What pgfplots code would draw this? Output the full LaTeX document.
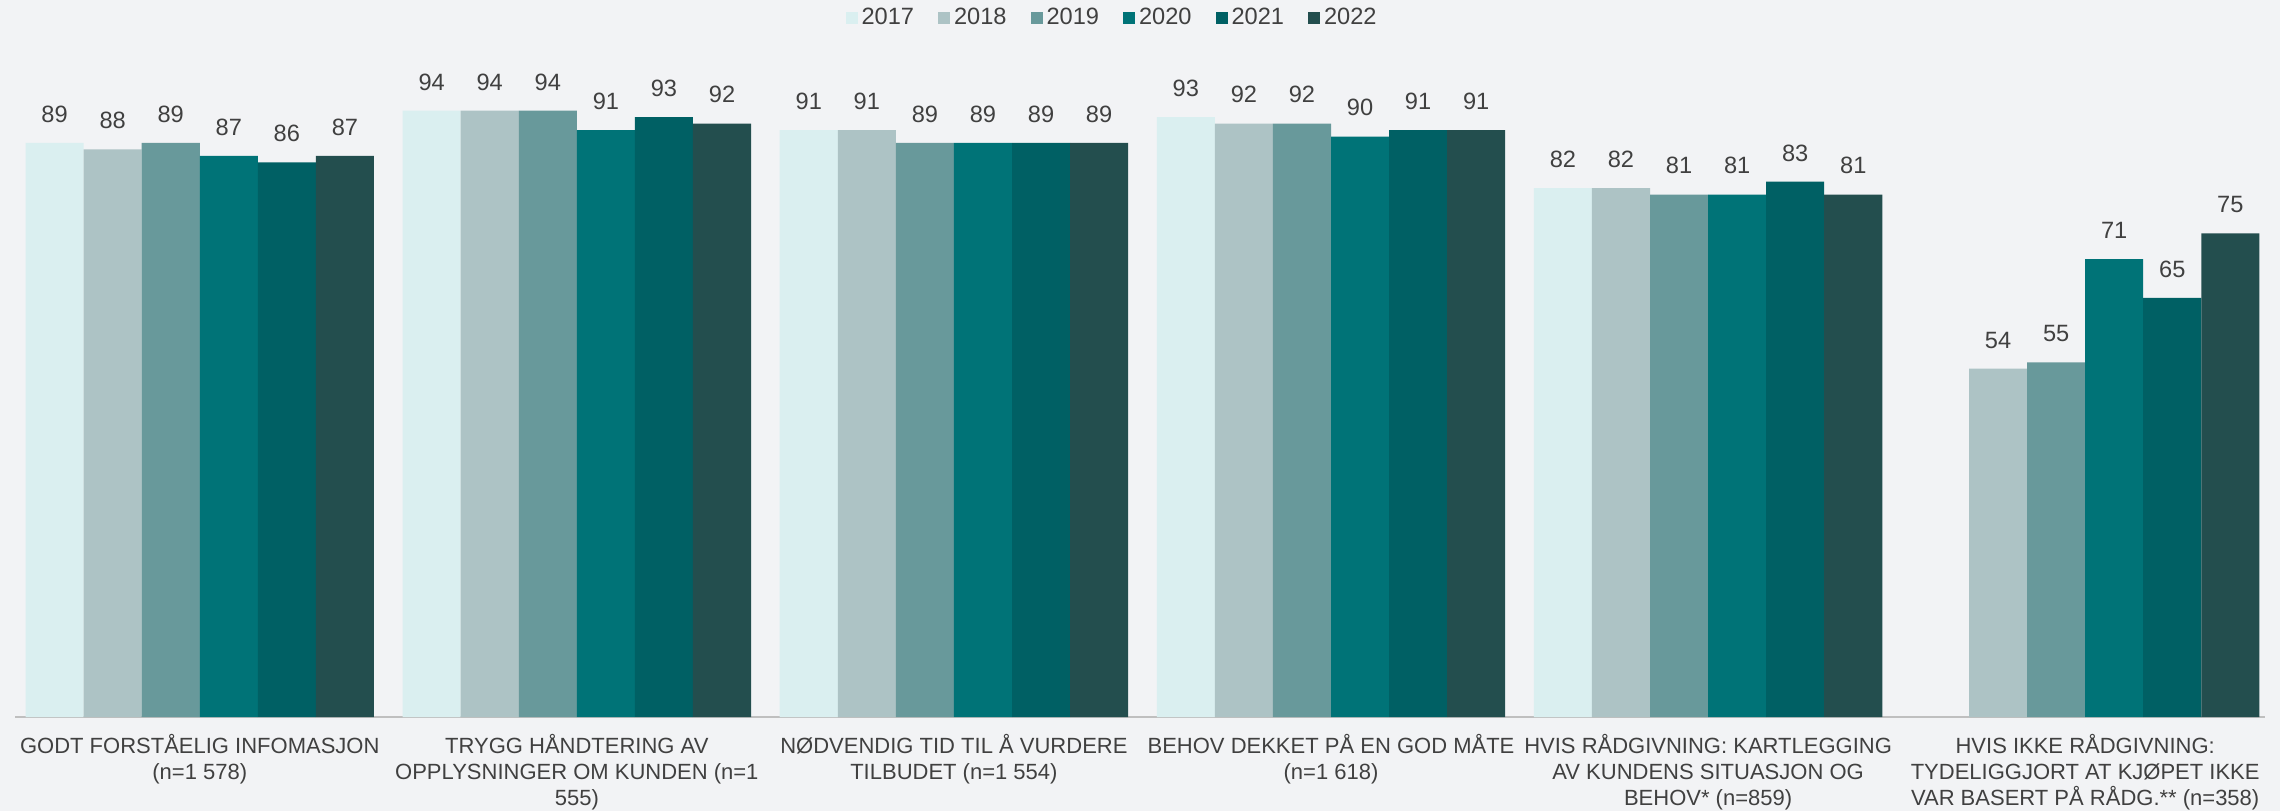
\documentclass[border=0pt]{standalone}
\usepackage{fontspec}
\setmainfont{Liberation Sans}
\usepackage{pgfplots}
\pgfplotsset{compat=1.18}
\definecolor{bg}{HTML}{F2F3F5}
\definecolor{cA}{HTML}{DAEFF0}
\definecolor{cB}{HTML}{ADC3C5}
\definecolor{cC}{HTML}{68999B}
\definecolor{cD}{HTML}{007377}
\definecolor{cE}{HTML}{006064}
\definecolor{cF}{HTML}{234E4E}
\definecolor{txt}{HTML}{404040}
\begin{document}
\begin{tikzpicture}
\fill[bg] (-7.5pt,-47pt) rectangle (1132.5pt,358.5pt);
\path[use as bounding box] (-7.5pt,-47pt) rectangle (1132.5pt,358.5pt);
\begin{axis}[
  at={(0pt,0pt)}, anchor=south west,
  scale only axis, width=1125pt, height=322.5pt,
  ybar=0pt, bar width=0.154,
  xmin=-0.49, xmax=5.477, ymin=0, ymax=100,
  axis y line=none,
  axis x line*=bottom,
  x axis line style={draw=black!25, line width=1pt, -},
  xtick={0,1,2,3,4,5},
  major tick length=0pt,
  xticklabels={{GODT FORSTÅELIG INFOMASJON\\(n=1 578)},{TRYGG HÅNDTERING AV\\OPPLYSNINGER OM KUNDEN (n=1\\555)},{NØDVENDIG TID TIL Å VURDERE\\TILBUDET (n=1 554)},{BEHOV DEKKET PÅ EN GOD MÅTE\\(n=1 618)},{HVIS RÅDGIVNING: KARTLEGGING\\AV KUNDENS SITUASJON OG\\BEHOV* (n=859)},{HVIS IKKE RÅDGIVNING:\\TYDELIGGJORT AT KJØPET IKKE\\VAR BASERT PÅ RÅDG.** (n=358)}},
  xticklabel style={align=center, font=\fontsize{11}{12.9}\selectfont, text=txt, anchor=north, inner sep=0pt, yshift=-8.5pt},
  /pgf/number format/assume math mode=true,
  nodes near coords,
  nodes near coords style={font=\fontsize{11.8}{13}\selectfont, text=txt, anchor=south, inner sep=0pt, yshift=10pt},
  legend columns=6,
  legend style={at={(0.488,1.084)}, anchor=center, draw=none, fill=none, font=\fontsize{11.8}{13}\selectfont, text=txt,
    /tikz/every even column/.append style={column sep=10pt}, inner sep=0pt},
  legend cell align=left,
]
\addplot[fill=cA, draw=none, legend image code/.code={\fill[cA] (0pt,-3pt) rectangle (6pt,3pt);}] coordinates {(0,89) (1,94) (2,91) (3,93) (4,82)};
\addplot[fill=cB, draw=none, legend image code/.code={\fill[cB] (0pt,-3pt) rectangle (6pt,3pt);}] coordinates {(0,88) (1,94) (2,91) (3,92) (4,82) (5,54)};
\addplot[fill=cC, draw=none, legend image code/.code={\fill[cC] (0pt,-3pt) rectangle (6pt,3pt);}] coordinates {(0,89) (1,94) (2,89) (3,92) (4,81) (5,55)};
\addplot[fill=cD, draw=none, legend image code/.code={\fill[cD] (0pt,-3pt) rectangle (6pt,3pt);}] coordinates {(0,87) (1,91) (2,89) (3,90) (4,81) (5,71)};
\addplot[fill=cE, draw=none, legend image code/.code={\fill[cE] (0pt,-3pt) rectangle (6pt,3pt);}] coordinates {(0,86) (1,93) (2,89) (3,91) (4,83) (5,65)};
\addplot[fill=cF, draw=none, legend image code/.code={\fill[cF] (0pt,-3pt) rectangle (6pt,3pt);}] coordinates {(0,87) (1,92) (2,89) (3,91) (4,81) (5,75)};
\legend{2017,2018,2019,2020,2021,2022}
\end{axis}
\end{tikzpicture}
\end{document}
